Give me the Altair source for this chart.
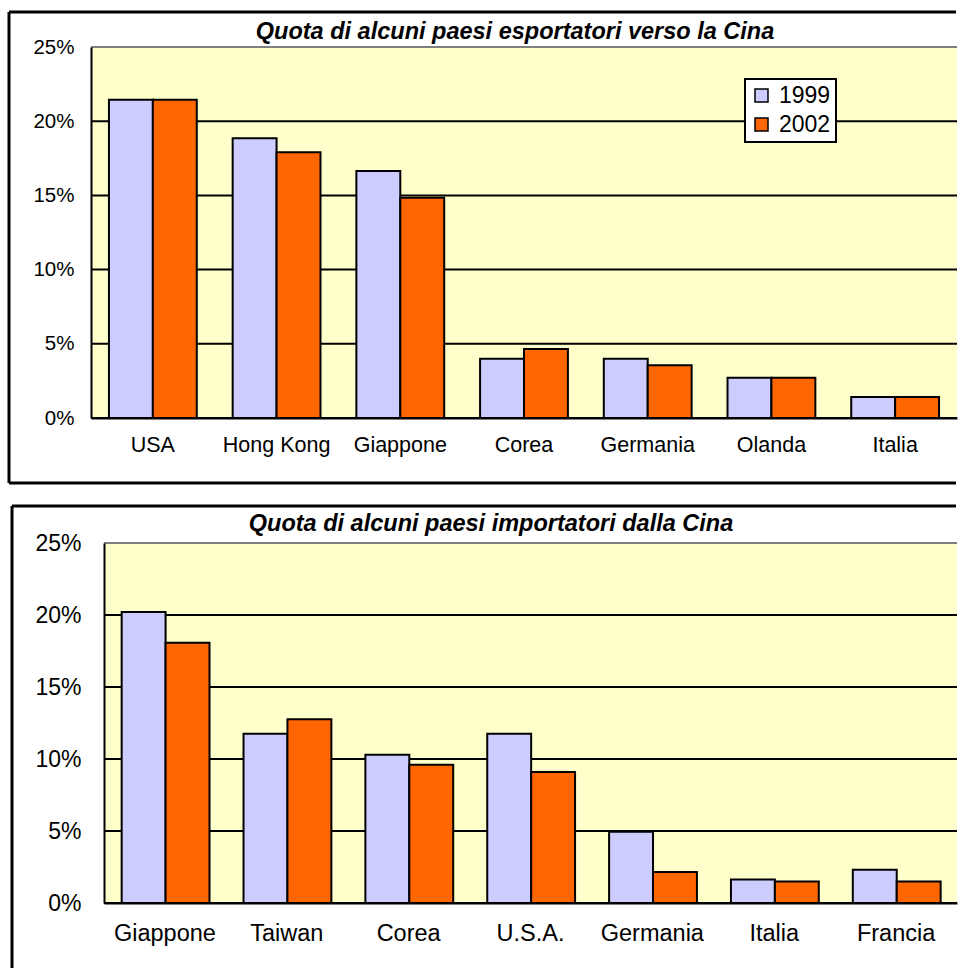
import altair as alt
import pandas as pd

years = ["1999", "2002"]
y_ticks = [0, 5, 10, 15, 20, 25]

exp_title = "Quota di alcuni paesi esportatori verso la Cina"
exp_countries = ["USA", "Hong Kong", "Giappone", "Corea", "Germania", "Olanda", "Italia"]
exp_1999 = [21.45, 18.85, 16.65, 4.0, 4.0, 2.72, 1.42]
exp_2002 = [21.45, 17.9, 14.85, 4.65, 3.55, 2.72, 1.42]

imp_title = "Quota di alcuni paesi importatori dalla Cina"
imp_countries = ["Giappone", "Taiwan", "Corea", "U.S.A.", "Germania", "Italia", "Francia"]
imp_1999 = [20.2, 11.75, 10.3, 11.75, 4.95, 1.64, 2.31]
imp_2002 = [18.07, 12.76, 9.6, 9.09, 2.15, 1.5, 1.5]

FONT = "Liberation Sans"
C1999 = "#CCCCFF"
C2002 = "#FF6600"
PLOT_BG = "#FFFFCC"


def make_df(countries, v1, v2):
    rows = []
    for c, a, b in zip(countries, v1, v2):
        rows.append({"paese": c, "anno": years[0], "quota": a})
        rows.append({"paese": c, "anno": years[1], "quota": b})
    return pd.DataFrame(rows)


def panel(countries, v1, v2, title, width, height, g):
    df = make_df(countries, v1, v2)
    one = pd.DataFrame({"t": [title]})
    ticks_df = pd.DataFrame({"quota": y_ticks})
    x0 = g["x0"]

    y_axis = alt.Axis(title=None, values=y_ticks, ticks=False, tickSize=0,
                      labelExpr="datum.value + '%'", offset=-x0,
                      labelPadding=g["ypad"], labelFontSize=g["yfs"],
                      labelFont=FONT, labelColor="black",
                      domainColor="black", domainWidth=2,
                      grid=False, zindex=1)
    y_scale = alt.Scale(domain=[0, 25], nice=False)

    bg = alt.Chart(one).mark_rect(fill=PLOT_BG, stroke=None).encode(
        x=alt.value(x0), x2=alt.value(width), y=alt.value(0), y2=alt.value(height))

    grid = alt.Chart(ticks_df).mark_rule(strokeWidth=2).encode(
        y=alt.Y("quota:Q", scale=y_scale, axis=y_axis),
        x=alt.value(x0), x2=alt.value(width),
        color=alt.condition("datum.quota >= 25", alt.value("#808080"), alt.value("black")))

    bars = alt.Chart(df).mark_bar(stroke="black", strokeWidth=2).encode(
        x=alt.X("paese:N", sort=countries,
                scale=alt.Scale(range=[x0, width], paddingInner=0.29, paddingOuter=0.145),
                axis=alt.Axis(title=None, labelAngle=0, ticks=False, grid=False,
                              labelPadding=g["xpad"], labelFontSize=g["xfs"],
                              labelFont=FONT, labelColor="black",
                              domainColor="black", domainWidth=2, zindex=1)),
        xOffset=alt.XOffset("anno:N", sort=years,
                            scale=alt.Scale(paddingInner=0, paddingOuter=0)),
        y=alt.Y("quota:Q", scale=y_scale, axis=y_axis),
        color=alt.Color("anno:N",
                        scale=alt.Scale(domain=years, range=[C1999, C2002]),
                        legend=alt.Legend(title=None, orient="none",
                                          legendX=g["lx"], legendY=g["ly"],
                                          fillColor="white", strokeColor="black",
                                          padding=5, rowPadding=5,
                                          symbolType="square", symbolSize=169,
                                          symbolStrokeColor="black", symbolStrokeWidth=1.5,
                                          labelFont=FONT, labelFontSize=23, labelColor="black",
                                          labelOffset=6)),
    )

    ttl = alt.Chart(one).mark_text(font=FONT, fontSize=23.5, fontWeight="bold",
                                   fontStyle="italic", align="center",
                                   baseline="middle", color="black").encode(
        text="t:N", x=alt.value(g["tx"]), y=alt.value(g["ty"]))

    layers = [bg, grid, bars, ttl]
    L, T, B = g["bl"], g["bt"], g["bb"]
    layers.append(alt.Chart(one).mark_rule(color="black", strokeWidth=3).encode(
        x=alt.value(L), y=alt.value(T), y2=alt.value(B)))
    layers.append(alt.Chart(one).mark_rule(color="black", strokeWidth=3).encode(
        y=alt.value(T), x=alt.value(L), x2=alt.value(g["br"])))
    if g.get("bottom", True):
        layers.append(alt.Chart(one).mark_rule(color="black", strokeWidth=3).encode(
            y=alt.value(B), x=alt.value(L), x2=alt.value(g["br"])))

    return alt.layer(*layers).properties(width=width, height=height)


# both panels share the same left origin (page x = 91)
top = panel(exp_countries, exp_1999, exp_2002, exp_title, 866, 371,
            dict(x0=0, xpad=16, xfs=21.5, ypad=17, yfs=20.5, lx=654, ly=32,
                 tx=424, ty=-15, bl=-82, bt=-35, bb=436, br=865))
bottom = panel(imp_countries, imp_1999, imp_2002, imp_title, 866, 360,
               dict(x0=13, xpad=18.5, xfs=23.5, ypad=23, yfs=23, lx=477, ly=25,
                    tx=400, ty=-19, bl=-79, bt=-37, bb=425, br=865,
                    bottom=False))

chart = alt.vconcat(top, bottom, spacing=19).properties(
    padding={"left": 7, "top": 10, "right": 0, "bottom": 0},
    background="white",
).configure_view(fill=None, stroke=None).configure_legend(strokeWidth=2)

chart.save("out.html", embed_options={"renderer": "svg", "actions": False})
